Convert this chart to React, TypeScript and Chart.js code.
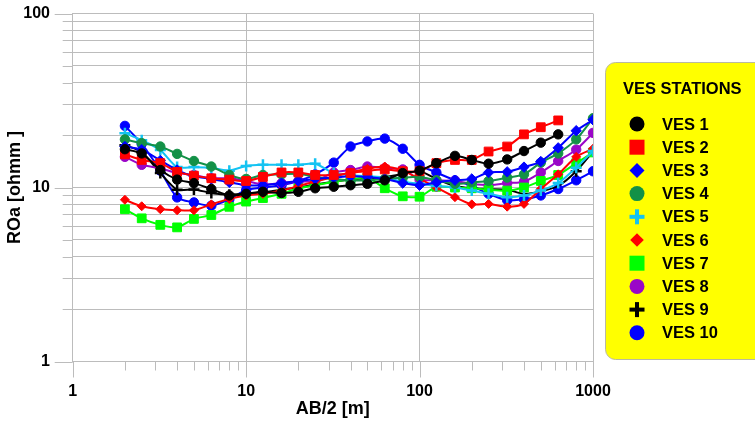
import React, { useEffect, useRef } from 'react';
import { Chart, registerables } from 'chart.js';

Chart.register(...registerables);

// Half electrode spacing AB/2 [m]
const abHalf = [2, 2.5, 3.2, 4, 5, 6.3, 8, 10, 12.5, 16, 20, 25, 32, 40, 50, 63, 80, 100, 125, 160, 200, 250, 320, 400, 500, 630, 800, 1000];

// Apparent resistivity [ohmm] per sounding station
const ves1 = [16.6, 15.7, 12.6, 11.1, 10.6, 9.8, 9.0, 9.2, 9.45, 9.3, 9.45, 9.9, 10.1, 10.3, 10.5, 11.0, 12.1, 12.5, 13.8, 15.2, 14.4, 13.7, 14.5, 16.2, 18.1, 20.2];
const ves2 = [15.5, 14.4, 13.8, 12.3, 11.7, 11.3, 11.1, 10.9, 11.5, 12.2, 12.2, 11.8, 11.8, 12.1, 12.5, 12.7, 12.4, 12.4, 13.8, 14.4, 14.4, 16.1, 17.2, 20.2, 22.2, 24.3];
const ves3 = [17.2, 16.5, 14.3, 12.6, 11.6, 11.2, 10.7, 10.3, 10.3, 10.6, 10.9, 11.2, 11.4, 11.6, 11.5, 11.2, 10.6, 10.3, 10.7, 11.0, 11.2, 12.2, 12.3, 13.1, 14.1, 16.9, 21.2, 24.5];
const ves4 = [18.9, 18.0, 17.2, 15.6, 14.2, 13.2, 11.8, 11.2, 11.8, 11.9, 12.0, 11.5, 11.2, 11.0, 11.0, 11.2, 11.4, 11.5, 11.0, 10.5, 10.7, 10.9, 11.4, 11.9, 13.9, 15.7, 18.9, 25.0];
const ves5 = [20.5, 18.7, 16.4, 13.1, 13.1, 13.0, 12.5, 13.3, 13.5, 13.5, 13.5, 13.7, 12.1, 11.8, 11.6, 11.4, 10.8, 10.5, 10.2, 10.0, 9.6, 9.2, 8.8, 9.0, 9.6, 10.6, 13.0, 16.2];
const ves6 = [8.5, 7.8, 7.5, 7.4, 7.4, 8.0, 8.6, 9.0, 9.2, 9.6, 10.2, 10.8, 11.5, 12.2, 12.8, 13.2, 12.5, 11.2, 10.0, 8.8, 8.0, 8.05, 7.76, 8.05, 9.8, 11.9, 15.0, 16.7];
const ves7 = [7.5, 6.65, 6.1, 5.9, 6.6, 6.95, 7.75, 8.3, 8.7, 9.2, 9.9, 10.3, 10.8, 11.1, 11.4, 9.9, 8.9, 8.85, 10.1, 10.0, 9.9, 9.7, 9.6, 10.0, 10.9, 11.8, 13.8, 15.9];
const ves8 = [15.0, 13.5, 12.9, 12.1, 11.8, 11.3, 11.3, 10.9, 10.4, 10.6, 10.8, 10.9, 12.2, 12.6, 13.2, 12.9, 12.7, 11.1, 11.0, 10.9, 10.5, 10.3, 10.6, 10.8, 12.2, 14.2, 16.5, 20.6];
const ves9 = [17.5, 16.0, 12.1, 9.7, 9.75, 9.3, 9.1, 9.2, 9.4, 9.7, 10.0, 10.4, 10.8, 11.1, 11.3, 11.5, 11.9, 12.4, 11.2, 10.2, 9.9, 9.8, 9.7, 9.2, 9.5, 10.2, 12.4, 16.1];
const ves10 = [22.6, 17.8, 12.5, 8.77, 8.21, 7.86, 8.54, 9.67, 10.0, 10.3, 10.9, 11.9, 13.9, 17.2, 18.4, 19.1, 16.7, 13.5, 12.2, 11.0, 10.2, 9.2, 8.45, 8.55, 9.0, 9.8, 11.0, 12.4];

const stationNames = ['VES 1', 'VES 2', 'VES 3', 'VES 4', 'VES 5', 'VES 6', 'VES 7', 'VES 8', 'VES 9', 'VES 10'];
const stationValues = [ves1, ves2, ves3, ves4, ves5, ves6, ves7, ves8, ves9, ves10];

// Labelled decades on each axis
const xTickLabels = [1, 10, 100, 1000];
const yTickLabels = [1, 10, 100];

const FONT = '"Liberation Sans", Arial, Helvetica, sans-serif';
const GRID = '#bcbcbc';

type Marker = 'circle' | 'square' | 'diamond' | 'smallDiamond' | 'plus';

const styles: { color: string; marker: Marker }[] = [
  { color: '#000000', marker: 'circle' },
  { color: '#ff0000', marker: 'square' },
  { color: '#0000ff', marker: 'diamond' },
  { color: '#139147', marker: 'circle' },
  { color: '#14c3f2', marker: 'plus' },
  { color: '#ff0000', marker: 'smallDiamond' },
  { color: '#00ff00', marker: 'square' },
  { color: '#9a06c8', marker: 'circle' },
  { color: '#000000', marker: 'plus' },
  { color: '#0000ff', marker: 'circle' },
];

const isDecade = (v: number) => Math.abs(Math.log10(v) - Math.round(Math.log10(v))) < 1e-9;

// 1..9 × every decade between the given limits
function logSteps(lo: number, hi: number) {
  const out: { value: number; major: boolean }[] = [];
  for (let d = lo; d < hi; d *= 10) {
    for (let k = 1; k < 10; k++) out.push({ value: d * k, major: k === 1 });
  }
  out.push({ value: hi, major: true });
  return out;
}

function pointConfig(marker: Marker) {
  switch (marker) {
    case 'circle':
      return { pointStyle: 'circle', pointRadius: 4.7 };
    case 'square':
      return { pointStyle: 'rect', pointRadius: 6.2 };
    case 'diamond':
      return { pointStyle: 'rectRot', pointRadius: 5.2 };
    case 'smallDiamond':
      return { pointStyle: 'rectRot', pointRadius: 4.5 };
    default:
      return { pointStyle: 'cross', pointRadius: 5.5 };
  }
}

// Short tick marks outside the plot frame (longer at decades)
const axisTicks = {
  id: 'axisTicks',
  beforeDatasetsDraw(chart: any) {
    const { ctx, chartArea, scales } = chart;
    const { left, bottom } = chartArea;
    ctx.save();
    ctx.strokeStyle = GRID;
    ctx.lineWidth = 1;
    ctx.beginPath();
    for (const t of scales.y.ticks) {
      const py = Math.round(scales.y.getPixelForValue(t.value)) + 0.5;
      ctx.moveTo(left - (isDecade(t.value) ? 18 : 10), py);
      ctx.lineTo(left, py);
    }
    for (const t of scales.x.ticks) {
      const px = Math.round(scales.x.getPixelForValue(t.value)) + 0.5;
      ctx.moveTo(px, bottom);
      ctx.lineTo(px, bottom + (isDecade(t.value) ? 16 : 9));
    }
    ctx.stroke();
    ctx.restore();
  },
};

function drawLegendMarker(ctx: CanvasRenderingContext2D, marker: Marker, color: string, cx: number, cy: number) {
  ctx.fillStyle = color;
  ctx.beginPath();
  if (marker === 'circle') {
    ctx.arc(cx, cy, 7.5, 0, Math.PI * 2);
    ctx.fill();
  } else if (marker === 'square') {
    ctx.fillRect(cx - 7.5, cy - 7.5, 15, 15);
  } else if (marker === 'diamond' || marker === 'smallDiamond') {
    const r = marker === 'diamond' ? 7.5 : 6.8;
    ctx.moveTo(cx, cy - r);
    ctx.lineTo(cx + r, cy);
    ctx.lineTo(cx, cy + r);
    ctx.lineTo(cx - r, cy);
    ctx.closePath();
    ctx.fill();
  } else {
    ctx.fillRect(cx - 7.5, cy - 2, 15, 4);
    ctx.fillRect(cx - 2, cy - 7.5, 4, 15);
  }
}

// Station legend in a yellow rounded panel on the right
const stationLegend = {
  id: 'stationLegend',
  afterDraw(chart: any) {
    const ctx: CanvasRenderingContext2D = chart.ctx;
    ctx.save();
    const bx = 605.5, by = 62.5, bw = 170, bh = 297, r = 10;
    ctx.beginPath();
    ctx.moveTo(bx + r, by);
    ctx.lineTo(bx + bw - r, by);
    ctx.arcTo(bx + bw, by, bx + bw, by + r, r);
    ctx.lineTo(bx + bw, by + bh - r);
    ctx.arcTo(bx + bw, by + bh, bx + bw - r, by + bh, r);
    ctx.lineTo(bx + r, by + bh);
    ctx.arcTo(bx, by + bh, bx, by + bh - r, r);
    ctx.lineTo(bx, by + r);
    ctx.arcTo(bx, by, bx + r, by, r);
    ctx.closePath();
    ctx.fillStyle = '#ffff00';
    ctx.fill();
    ctx.strokeStyle = '#b9b9a0';
    ctx.lineWidth = 1;
    ctx.stroke();

    ctx.fillStyle = '#000000';
    ctx.textBaseline = 'middle';
    ctx.textAlign = 'left';
    ctx.font = `bold 16.5px ${FONT}`;
    ctx.fillText('VES STATIONS', 623, 89);

    stationNames.forEach((name, i) => {
      const cy = 124 + i * 23.2;
      drawLegendMarker(ctx, styles[i].marker, styles[i].color, 637, cy);
      ctx.fillStyle = '#000000';
      ctx.fillText(name, 662, cy + 1);
    });
    ctx.restore();
  },
};

export default function App() {
  const canvasRef = useRef<HTMLCanvasElement | null>(null);

  useEffect(() => {
    if (!canvasRef.current) return;

    const datasets = stationValues.map((values, i) => {
      const st = styles[i];
      const pc = pointConfig(st.marker);
      const isVes9 = i === 8;
      return {
        label: stationNames[i],
        data: values.map((v, j) => ({ x: abHalf[j], y: v })),
        borderColor: st.color,
        backgroundColor: st.color,
        borderWidth: 2,
        tension: 0.25,
        pointStyle: pc.pointStyle,
        pointRadius: isVes9
          ? (c: any) => (abHalf[c.dataIndex] <= 10 || abHalf[c.dataIndex] >= 800 ? pc.pointRadius : 0)
          : pc.pointRadius,
        pointBackgroundColor: st.color,
        pointBorderColor: st.color,
        pointBorderWidth: st.marker === 'plus' ? 2.5 : 1,
        pointHoverRadius: pc.pointRadius,
      };
    });

    const chart = new Chart(canvasRef.current, {
      type: 'line',
      data: { datasets },
      options: {
        animation: false,
        responsive: false,
        devicePixelRatio: 1,
        layout: { padding: { top: 13.5, right: 162, left: 0, bottom: 0 } },
        plugins: {
          legend: { display: false },
          tooltip: { enabled: false },
        },
        scales: {
          x: {
            type: 'logarithmic',
            min: 1,
            max: 1000,
            afterBuildTicks: (scale: any) => {
              scale.ticks = logSteps(1, 1000);
            },
            afterFit: (scale: any) => {
              scale.height = 62.5;
            },
            grid: {
              color: (c: any) => (c.tick && isDecade(c.tick.value) ? GRID : 'rgba(0,0,0,0)'),
              drawTicks: true,
              tickLength: 16,
              tickColor: 'rgba(0,0,0,0)',
              lineWidth: 1,
            },
            border: { display: true, color: GRID },
            ticks: {
              autoSkip: false,
              maxRotation: 0,
              padding: 4,
              color: '#000000',
              font: { family: FONT, size: 16, weight: 'bold' },
              callback: (v: any) => (xTickLabels.includes(Number(v)) ? String(v) : ''),
            },
            title: {
              display: true,
              text: 'AB/2 [m]',
              color: '#000000',
              padding: 4.2,
              font: { family: FONT, size: 18, weight: 'bold' },
            },
          },
          y: {
            type: 'logarithmic',
            min: 1,
            max: 100,
            afterBuildTicks: (scale: any) => {
              scale.ticks = logSteps(1, 100);
            },
            afterFit: (scale: any) => {
              scale.width = 72.7;
            },
            grid: {
              color: GRID,
              drawTicks: true,
              tickLength: 19,
              tickColor: 'rgba(0,0,0,0)',
              lineWidth: 1,
            },
            border: { display: true, color: GRID },
            ticks: {
              autoSkip: false,
              padding: 3.7,
              color: '#000000',
              font: { family: FONT, size: 16, weight: 'bold' },
              callback: (v: any) => (yTickLabels.includes(Number(v)) ? String(v) : ''),
            },
            title: {
              display: true,
              text: 'ROa [ohmm ]',
              color: '#000000',
              padding: 4.5,
              font: { family: FONT, size: 18, weight: 'bold' },
            },
          },
        },
      } as any,
      plugins: [axisTicks, stationLegend],
    });

    return () => chart.destroy();
  }, []);

  return (
    <div style={{ position: 'absolute', left: 0, top: 0, width: 755, height: 424, background: '#ffffff' }}>
      <canvas ref={canvasRef} width={755} height={424} style={{ width: 755, height: 424, display: 'block' }} />
    </div>
  );
}
